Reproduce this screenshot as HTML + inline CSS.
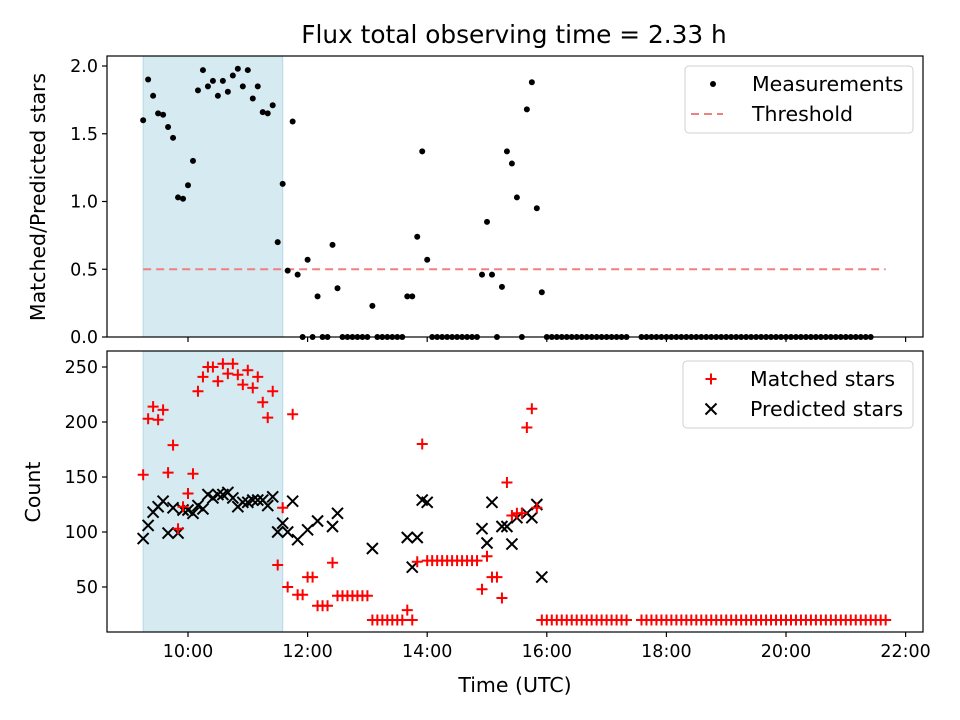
<!DOCTYPE html>
<html><head><meta charset="utf-8"><style>
html,body{margin:0;padding:0;background:#fff}
svg{display:block;font-family:"DejaVu Sans","Liberation Sans",sans-serif}
</style></head><body>
<svg id="chart" width="960" height="720" viewBox="0 0 960 720" xmlns="http://www.w3.org/2000/svg">
<rect x="0" y="0" width="960" height="720" fill="#fff"/>
<text x="514" y="43" font-size="24.8" text-anchor="middle">Flux total observing time = 2.33 h</text>
<g id="topPanel"></g>
<g id="botPanel"></g>
<text transform="translate(45,197) rotate(-90)" font-size="20.5" text-anchor="middle">Matched/Predicted stars</text>
<text transform="translate(40,492) rotate(-90)" font-size="20.5" text-anchor="middle">Count</text>
<text x="515" y="692" font-size="20.5" text-anchor="middle">Time (UTC)</text>
</svg>
<script>
// observation times, minutes since midnight
const times = [555,560,565,570,575,580,585,590,595,600,605,610,615,620,625,630,635,640,645,650,655,660,665,670,675,680,685,690,695,700,705,710,715,720,725,730,735,740,745,750,755,760,765,770,775,780,785,790,795,800,805,810,815,820,825,830,835,840,845,850,855,860,865,870,875,880,885,890,895,900,905,910,915,920,925,930,935,940,945,950,955,960,965,970,975,980,985,990,995,1000,1005,1010,1015,1020,1025,1030,1035,1040,1055,1060,1065,1070,1075,1080,1085,1090,1095,1100,1105,1110,1115,1120,1125,1130,1135,1140,1145,1150,1155,1160,1165,1170,1175,1180,1185,1190,1195,1200,1205,1210,1215,1220,1225,1230,1235,1240,1245,1250,1255,1260,1265,1270,1275,1280,1285,1290,1295,1300];
const ratio = [1.60,1.90,1.78,1.65,1.64,1.55,1.47,1.03,1.02,1.12,1.30,1.82,1.97,1.85,1.89,1.78,1.89,1.81,1.93,1.98,1.85,1.97,1.76,1.85,1.66,1.65,1.71,0.70,1.13,0.49,1.59,0.46,0,0.57,0,0.30,0,0,0.68,0.36,0,0,0,0,0,0,0.23,0,0,0,0,0,0,0.30,0.30,0.74,1.37,0.57,0,0,0,0,0,0,0,0,0,0,0.46,0.85,0.46,0,0.37,1.37,1.28,1.03,0,1.68,1.88,0.95,0.33,0,0,0,0,0,0,0,0,0,0,0,0,0,0,0,0,0,0,0,0,0,0,0,0,0,0,0,0,0,0,0,0,0,0,0,0,0,0,0,0,0,0,0,0,0,0,0,0,0,0,0,0,0,0,0,0,0,0,0,0,0,0,0,0];
const matched = [152,203,214,202,211,154,179,103,123,135,153,228,241,250,250,237,253,244,253,243,234,247,231,241,218,204,228,70,122,50,207,43,43,59,59,33,33,33,72,42,42,42,42,42,42,42,20,20,20,20,20,20,20,29,20,73,180,74,74,74,74,74,74,74,74,74,74,74,48,78,59,59,40,145,115,117,117,195,212,122,20,20,20,20,20,20,20,20,20,20,20,20,20,20,20,20,20,20,20,20,20,20,20,20,20,20,20,20,20,20,20,20,20,20,20,20,20,20,20,20,20,20,20,20,20,20,20,20,20,20,20,20,20,20,20,20,20,20,20,20,20,20,20,20,20,20,20,20];
const predicted = [94,106,118,123,128,99,122,99,120,120,117,124,121,134,131,134,134,136,131,123,127,127,129,129,129,124,132,100,108,100,128,93,null,102,null,110,null,null,105,117,null,null,null,null,null,null,85,null,null,null,null,null,null,95,68,95,129,127,null,null,null,null,null,null,null,null,null,null,103,90,127,null,105,105,89,113,null,117,113,125,59];
const threshold = 0.5;
const shadeStart = 555, shadeEnd = 695;
const xTickLabels = ["10:00","12:00","14:00","16:00","18:00","20:00","22:00"];
const xTickMinutes = [600,720,840,960,1080,1200,1320];
const topTicks = [0.0,0.5,1.0,1.5,2.0];
const botTicks = [50,100,150,200,250];

const NS = "http://www.w3.org/2000/svg";
const L = 107, R = 923;
const T1 = 56, B1 = 337, T2 = 351, B2 = 632;
const xs = t => 188 + (t - 600) * 59.8 / 60;
const y1 = v => 337 - v * 135.5;
const y2 = v => 642 - v * 1.1;
function mk(parent, tag, attrs, text) {
  const e = document.createElementNS(NS, tag);
  for (const k in attrs) e.setAttribute(k, attrs[k]);
  if (text !== undefined) e.textContent = text;
  parent.appendChild(e);
  return e;
}
const topG = document.getElementById('topPanel');
const botG = document.getElementById('botPanel');

function panel(g, T, B, ticks, yf, labels, fmt, pfx) {
  const sh = mk(g, 'rect', {x: xs(shadeStart), y: T, width: xs(shadeEnd) - xs(shadeStart), height: B - T, fill: '#d5eaf1', stroke: '#b5dae6', 'stroke-width': 1});
  
  
  xTickMinutes.forEach((m, i) => {
    const x = xs(m);
    const tk = mk(g, 'line', {x1: x, x2: x, y1: B, y2: B + 5, stroke: '#000', 'stroke-width': 1.2});
    
    
    if (labels) {
      const tl = mk(g, 'text', {x: x, y: B + 25, 'font-size': 17.5, 'text-anchor': 'middle'}, xTickLabels[i]);
      
      
    }
  });
  ticks.forEach(v => {
    const y = yf(v);
    const tk = mk(g, 'line', {x1: L - 5, x2: L, y1: y, y2: y, stroke: '#000', 'stroke-width': 1.2});
    
    
    const tl = mk(g, 'text', {x: L - 9, y: y + 6, 'font-size': 17.5, 'text-anchor': 'end'}, fmt(v));
    
    
  });
}
panel(topG, T1, B1, topTicks, y1, false, v => v.toFixed(1), 'top');
panel(botG, T2, B2, botTicks, y2, true, v => String(v), 'bottom');

// threshold
const th = mk(topG, 'line', {x1: xs(times[0]), x2: xs(times[times.length - 1]), y1: y1(threshold), y2: y1(threshold), stroke: '#f08080', 'stroke-width': 2, 'stroke-dasharray': '8,5'});



// ratio dots
times.forEach((t, i) => {
  if (ratio[i] == null) return;
  const c = mk(topG, 'circle', {cx: xs(t), cy: y1(ratio[i]), r: 3, fill: '#000'});
  
  
});
// predicted x
times.forEach((t, i) => {
  const v = predicted[i];
  if (v == null) return;
  const x = xs(t), y = y2(v), s = 5.5;
  const p = mk(botG, 'path', {d: `M${x-s},${y-s}L${x+s},${y+s}M${x-s},${y+s}L${x+s},${y-s}`, stroke: '#000', 'stroke-width': 2, fill: 'none'});
  
  
});
// matched +
times.forEach((t, i) => {
  const v = matched[i];
  if (v == null) return;
  const x = xs(t), y = y2(v), s = 5.5;
  const p = mk(botG, 'path', {d: `M${x-s},${y}L${x+s},${y}M${x},${y-s}L${x},${y+s}`, stroke: '#ff0000', 'stroke-width': 2, fill: 'none'});
  
  
});

// frames
[[topG, T1, B1], [botG, T2, B2]].forEach(([g, T, B]) => {
  const f = mk(g, 'rect', {x: L, y: T, width: R - L, height: B - T, fill: 'none', stroke: '#000', 'stroke-width': 1.2});
  
  
});

// legends
function legend(g, x, y, w, h, entries, pfx) {
  const box = mk(g, 'rect', {x: x, y: y, width: w, height: h, rx: 4, fill: '#fff', 'fill-opacity': 0.8, stroke: '#d0d0d0', 'stroke-width': 1});
  
  
  entries.forEach((e, i) => {
    const yy = y + 18 + i * 30;
    const cx = x + 28;
    if (e.kind === 'dot') mk(g, 'circle', {cx: cx, cy: yy, r: 3, fill: '#000'});
    if (e.kind === 'dash') mk(g, 'line', {x1: cx - 22, x2: cx + 10, y1: yy, y2: yy, stroke: '#f08080', 'stroke-width': 2, 'stroke-dasharray': '8,5'});
    if (e.kind === 'plus') mk(g, 'path', {d: `M${cx-5.5},${yy}L${cx+5.5},${yy}M${cx},${yy-5.5}L${cx},${yy+5.5}`, stroke: '#f00', 'stroke-width': 2});
    if (e.kind === 'x') mk(g, 'path', {d: `M${cx-5.5},${yy-5.5}L${cx+5.5},${yy+5.5}M${cx-5.5},${yy+5.5}L${cx+5.5},${yy-5.5}`, stroke: '#000', 'stroke-width': 2});
    const t = mk(g, 'text', {x: x + 67, y: yy + 7, 'font-size': 20.5}, e.label);
    
    
  });
}
legend(topG, 685, 66, 228, 67, [{kind: 'dot', label: 'Measurements'}, {kind: 'dash', label: 'Threshold'}], 'top');
legend(botG, 683, 361, 230, 67, [{kind: 'plus', label: 'Matched stars'}, {kind: 'x', label: 'Predicted stars'}], 'bottom');
</script>
</body></html>
